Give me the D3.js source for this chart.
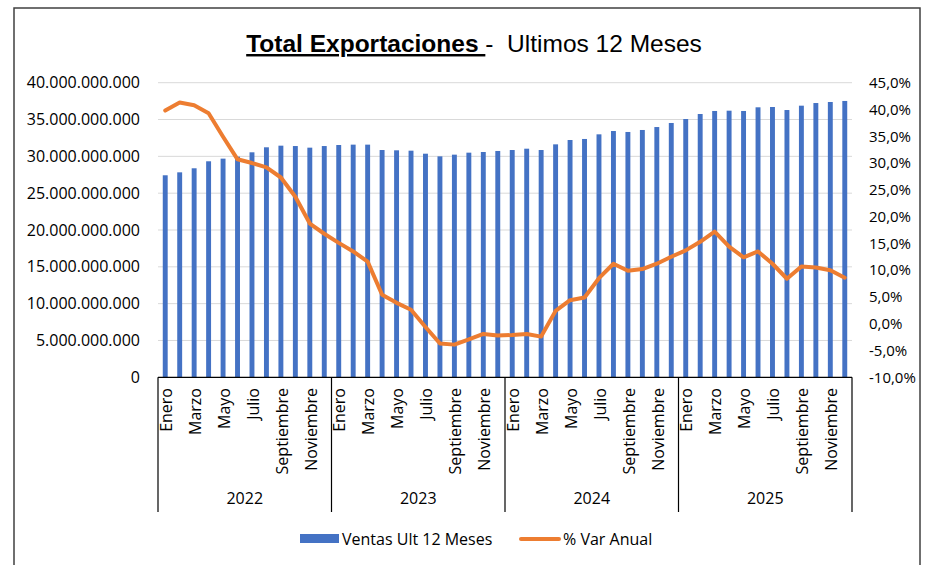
<!DOCTYPE html>
<html>
<head>
<meta charset="utf-8">
<script src="https://cdn.jsdelivr.net/npm/d3@7"></script>
<style>
  body { margin: 0; background: #fff; }
  text { font-family: "Open Sans", sans-serif; fill: #000; }
</style>
</head>
<body>
<div id="chart"></div>
<script>
var width = 925
var height = 565

// Meses y años del eje de categorías
var meses = ['Enero', 'Febrero', 'Marzo', 'Abril', 'Mayo', 'Junio',
       'Julio', 'Agosto', 'Septiembre', 'Octubre', 'Noviembre', 'Diciembre']
var anios = ['2022', '2023', '2024', '2025']

// Ventas acumuladas últimos 12 meses (por mes, 2022 a 2025)
var ventas = [
  27430000000, 27830000000, 28380000000, 29330000000, 29690000000, 29960000000,
  30550000000, 31230000000, 31450000000, 31400000000, 31180000000, 31400000000,
  31540000000, 31590000000, 31590000000, 30860000000, 30820000000, 30770000000,
  30360000000, 30000000000, 30230000000, 30500000000, 30590000000, 30730000000,
  30860000000, 31040000000, 30860000000, 31630000000, 32220000000, 32360000000,
  32990000000, 33440000000, 33310000000, 33580000000, 33980000000, 34530000000,
  35070000000, 35750000000, 36160000000, 36200000000, 36160000000, 36660000000,
  36700000000, 36290000000, 36880000000, 37240000000, 37380000000, 37520000000]

// % variación anual
var varAnual = [
  39.8, 41.3, 40.8, 39.3, 34.9, 30.7, 30.0, 29.2, 27.3, 23.7, 18.7, 16.8,
  15.1, 13.5, 11.6, 5.4, 3.9, 2.6, -0.6, -3.7, -3.9, -2.9, -1.9, -2.2,
  -2.1, -1.9, -2.4, 2.4, 4.4, 4.9, 8.5, 11.2, 9.9, 10.2, 11.2, 12.5,
  13.7, 15.3, 17.2, 14.4, 12.4, 13.5, 11.2, 8.4, 10.7, 10.5, 10.0, 8.6]

var ticksIzq = [0, 5e9, 10e9, 15e9, 20e9, 25e9, 30e9, 35e9, 40e9]
var ticksDer = [-10, -5, 0, 5, 10, 15, 20, 25, 30, 35, 40, 45]

var locale = d3.formatLocale({ decimal: ',', thousands: '.', grouping: [3], currency: ['', ''], minus: '-' })
var fmtIzq = locale.format(',.0f')
var fmtDer = locale.format(',.1f')

var svg = d3.select('#chart').append('svg')
    .attr('width', width)
    .attr('height', height)

var plotLeft = 158, plotRight = 852, plotTop = 82.7, plotBottom = 377.3

var datos = ventas.map(function (v, i) {
    return { i: i, ventas: v, pct: varAnual[i], mes: meses[i % 12], anio: anios[Math.floor(i / 12)] }
})

var x = d3.scaleBand()
    .domain(d3.range(datos.length))
    .range([plotLeft, plotRight])
    .paddingInner(0.66)
    .paddingOuter(0.33)

var y = d3.scaleLinear().domain([0, 40e9]).range([plotBottom, plotTop])
var y2 = d3.scaleLinear().domain([-10, 45]).range([plotBottom, plotTop])

// Marco
svg.append('rect')
    .attr('x', 14).attr('y', 8)
    .attr('width', 906).attr('height', 570)
    .attr('fill', 'none')
    .attr('stroke', '#404040')
    .attr('stroke-width', 1.5)

// Título
var titulo = svg.append('text')
    .attr('x', 474)
    .attr('y', 52)
    .attr('text-anchor', 'middle')
    .style('font-family', '"Liberation Sans", Arial, sans-serif')
    .style('font-size', '24.5px')
    .style('white-space', 'pre')
titulo.append('tspan')
    .style('font-weight', 'bold')
    .style('text-decoration', 'underline')
    .text('Total Exportaciones ')
titulo.append('tspan')
    .text('-  Ultimos 12 Meses')

// Grilla
svg.append('g')
    .selectAll('line')
    .data(ticksIzq.slice(1))
    .enter().append('line')
    .attr('x1', plotLeft).attr('x2', plotRight)
    .attr('y1', function (d) { return y(d) })
    .attr('y2', function (d) { return y(d) })
    .attr('stroke', '#d9d9d9')
    .attr('stroke-width', 1)

// Eje izquierdo
var ejeIzq = svg.append('g')
    .attr('transform', 'translate(' + (plotLeft - 4) + ',0)')
    .call(d3.axisLeft(y).tickValues(ticksIzq).tickSize(0).tickPadding(14).tickFormat(fmtIzq))
ejeIzq.select('.domain').remove()
ejeIzq.selectAll('text').style('font-size', '16px').style('font-family', '"Open Sans", sans-serif')

// Eje derecho
var ejeDer = svg.append('g')
    .attr('transform', 'translate(' + (plotRight + 4) + ',0)')
    .call(d3.axisRight(y2).tickValues(ticksDer).tickSize(0).tickPadding(13)
        .tickFormat(function (d) { return fmtDer(d) + '%' }))
ejeDer.select('.domain').remove()
ejeDer.selectAll('text').style('font-size', '15px').style('font-family', '"Open Sans", sans-serif')

// Barras
svg.append('g')
    .selectAll('rect')
    .data(datos)
    .enter().append('rect')
    .attr('x', function (d) { return x(d.i) })
    .attr('y', function (d) { return y(d.ventas) })
    .attr('width', x.bandwidth())
    .attr('height', function (d) { return y(0) - y(d.ventas) })
    .attr('fill', '#4472C4')

// Línea % var anual
var linea = d3.line()
    .x(function (d) { return x(d.i) + x.bandwidth() / 2 })
    .y(function (d) { return y2(d.pct) })

svg.append('path')
    .datum(datos)
    .attr('d', linea)
    .attr('fill', 'none')
    .attr('stroke', '#ED7D31')
    .attr('stroke-width', 4)
    .attr('stroke-linejoin', 'round')
    .attr('stroke-linecap', 'round')

// Eje de categorías (dos niveles)
svg.append('line')
    .attr('x1', plotLeft).attr('x2', plotRight)
    .attr('y1', plotBottom).attr('y2', plotBottom)
    .attr('stroke', '#000')
    .attr('stroke-width', 1.2)

var bordes = d3.range(anios.length + 1).map(function (k) {
    return k < anios.length ? x(k * 12) - x.step() * x.paddingOuter() : plotRight
})
svg.append('g')
    .selectAll('line')
    .data(bordes)
    .enter().append('line')
    .attr('x1', function (d) { return d }).attr('x2', function (d) { return d })
    .attr('y1', plotBottom).attr('y2', 512)
    .attr('stroke', '#000')
    .attr('stroke-width', 1.2)

svg.append('g')
    .selectAll('text')
    .data(datos.filter(function (d) { return d.i % 2 === 0 }))
    .enter().append('text')
    .attr('transform', function (d) {
        return 'translate(' + (x(d.i) + x.bandwidth() / 2 + 1) + ',388) rotate(-90)'
    })
    .attr('text-anchor', 'end')
    .attr('dy', '0.36em')
    .style('font-size', '16px')
    .text(function (d) { return d.mes })

svg.append('g')
    .selectAll('text')
    .data(anios)
    .enter().append('text')
    .attr('x', function (d, k) { return (bordes[k] + bordes[k + 1]) / 2 })
    .attr('y', 504)
    .attr('text-anchor', 'middle')
    .style('font-size', '16px')
    .text(function (d) { return d })

// Leyenda
var leyenda = svg.append('g')
leyenda.append('rect')
    .attr('x', 300).attr('y', 534)
    .attr('width', 39).attr('height', 9)
    .attr('fill', '#4472C4')
leyenda.append('text')
    .attr('x', 342).attr('y', 539)
    .attr('dy', '0.35em')
    .style('font-size', '16px')
    .text('Ventas Ult 12 Meses')
leyenda.append('line')
    .attr('x1', 521).attr('x2', 559)
    .attr('y1', 539).attr('y2', 539)
    .attr('stroke', '#ED7D31')
    .attr('stroke-width', 4)
    .attr('stroke-linecap', 'round')
leyenda.append('text')
    .attr('x', 563).attr('y', 539)
    .attr('dy', '0.35em')
    .style('font-size', '16px')
    .text('% Var Anual')
</script>
</body>
</html>
